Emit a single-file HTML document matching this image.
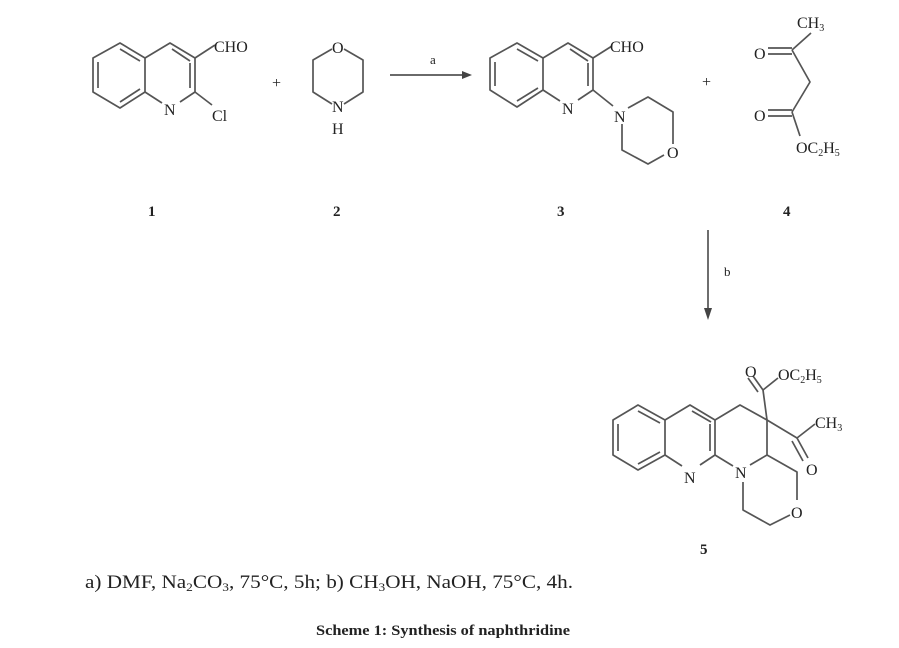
<!DOCTYPE html>
<html><head><meta charset="utf-8"><style>
html,body{margin:0;padding:0;background:#fff;}
svg{display:block;}
text{font-family:"Liberation Serif",serif;fill:#222;}
</style></head><body>
<svg width="899" height="648" viewBox="0 0 899 648" xmlns="http://www.w3.org/2000/svg">
<g stroke="#555" stroke-width="1.7" fill="none" stroke-linejoin="round">
<polygon points="120,43 145,58 145,92 120,108 93,92 93,58"/>
<line x1="120" y1="49" x2="140" y2="61"/>
<line x1="98" y1="62" x2="98" y2="88"/>
<line x1="120" y1="102" x2="140" y2="89"/>
<polyline points="145,58 170,43 195,58 195,92 180,102"/>
<line x1="145" y1="92" x2="162" y2="103"/>
<line x1="172" y1="49" x2="190" y2="61"/>
<line x1="190" y1="63" x2="190" y2="88"/>
<line x1="195" y1="58" x2="215" y2="45"/>
<line x1="195" y1="92" x2="212" y2="105"/>
<polyline points="332,49 313,60 313,92 332,104"/>
<polyline points="344,49 363,60 363,92 344,104"/>
<line x1="390" y1="75" x2="462" y2="75"/>
<polygon points="517,43 543,58 543,90 517,107 490,90 490,58"/>
<line x1="517" y1="49" x2="538" y2="61"/>
<line x1="495" y1="62" x2="495" y2="86"/>
<line x1="517" y1="101" x2="538" y2="88"/>
<polyline points="543,58 568,43 593,58 593,90 578,100"/>
<line x1="543" y1="90" x2="560" y2="101"/>
<line x1="570" y1="49" x2="588" y2="61"/>
<line x1="588" y1="63" x2="588" y2="86"/>
<line x1="593" y1="58" x2="612" y2="46"/>
<line x1="593" y1="90" x2="613" y2="106"/>
<polyline points="628,108 648,97 673,112 673,144"/>
<polyline points="622,124 622,150 648,164 664,155"/>
<line x1="792" y1="50" x2="811" y2="33"/>
<line x1="768" y1="48" x2="792" y2="48"/>
<line x1="768" y1="54" x2="792" y2="54"/>
<polyline points="792,50 810,82 792,112"/>
<line x1="768" y1="110" x2="792" y2="110"/>
<line x1="768" y1="116" x2="792" y2="116"/>
<line x1="792" y1="112" x2="800" y2="136"/>
<line x1="708" y1="230" x2="708" y2="310"/>
<polygon points="638,405 665,420 665,455 638,470 613,455 613,420"/>
<line x1="638" y1="411" x2="660" y2="423"/>
<line x1="618" y1="424" x2="618" y2="451"/>
<line x1="638" y1="464" x2="660" y2="452"/>
<polyline points="665,420 690,405 715,420 715,455 700,465"/>
<line x1="665" y1="455" x2="682" y2="466"/>
<line x1="692" y1="411" x2="711" y2="422"/>
<line x1="710" y1="424" x2="710" y2="451"/>
<polyline points="715,420 740,405 767,420 767,455 750,465"/>
<line x1="715" y1="455" x2="733" y2="466"/>
<line x1="767" y1="420" x2="763" y2="390"/>
<line x1="763" y1="390" x2="753" y2="376"/>
<line x1="758" y1="392" x2="748" y2="378"/>
<line x1="763" y1="390" x2="778" y2="378"/>
<polyline points="767,420 797,438 815,424"/>
<line x1="797" y1="438" x2="808" y2="458"/>
<line x1="792" y1="441" x2="803" y2="461"/>
<polyline points="767,455 797,472 797,500"/>
<polyline points="743,482 743,510 770,525 790,515"/>
</g>
<polygon points="462,71 472,75 462,79" fill="#444"/>
<polygon points="704,308 708,320 712,308" fill="#444"/>
<g font-size="16">
<text x="214" y="52">CHO</text>
<text x="164" y="115">N</text>
<text x="212" y="121">Cl</text>
<text x="272" y="88">+</text>
<text x="332" y="53">O</text>
<text x="332" y="112">N</text>
<text x="332" y="134">H</text>
<text x="430" y="64" font-size="13">a</text>
<text x="610" y="52">CHO</text>
<text x="562" y="114">N</text>
<text x="614" y="122">N</text>
<text x="667" y="158">O</text>
<text x="702" y="87">+</text>
<text x="797" y="28">CH<tspan font-size="10" dy="3">3</tspan></text>
<text x="754" y="59">O</text>
<text x="754" y="121">O</text>
<text x="796" y="153">OC<tspan font-size="10" dy="3">2</tspan><tspan dy="-3">H</tspan><tspan font-size="10" dy="3">5</tspan></text>
<text x="724" y="276" font-size="13">b</text>
<text x="684" y="483">N</text>
<text x="735" y="478">N</text>
<text x="791" y="518">O</text>
<text x="745" y="377">O</text>
<text x="778" y="380">OC<tspan font-size="10" dy="3">2</tspan><tspan dy="-3">H</tspan><tspan font-size="10" dy="3">5</tspan></text>
<text x="815" y="428">CH<tspan font-size="10" dy="3">3</tspan></text>
<text x="806" y="475">O</text>
</g>
<g font-size="15" font-weight="bold">
<text x="148" y="216">1</text>
<text x="333" y="216">2</text>
<text x="557" y="216">3</text>
<text x="783" y="216">4</text>
<text x="700" y="554">5</text>
</g>
<text x="85" y="588" font-size="19" textLength="488" lengthAdjust="spacingAndGlyphs">a) DMF, Na<tspan font-size="12" dy="3">2</tspan><tspan dy="-3">CO</tspan><tspan font-size="12" dy="3">3</tspan><tspan dy="-3">, 75°C, 5h; b) CH</tspan><tspan font-size="12" dy="3">3</tspan><tspan dy="-3">OH, NaOH, 75°C, 4h.</tspan></text>
<text x="316" y="635" font-size="15" font-weight="bold" fill="#000" textLength="254" lengthAdjust="spacingAndGlyphs">Scheme 1: Synthesis of naphthridine</text>
</svg>
</body></html>
